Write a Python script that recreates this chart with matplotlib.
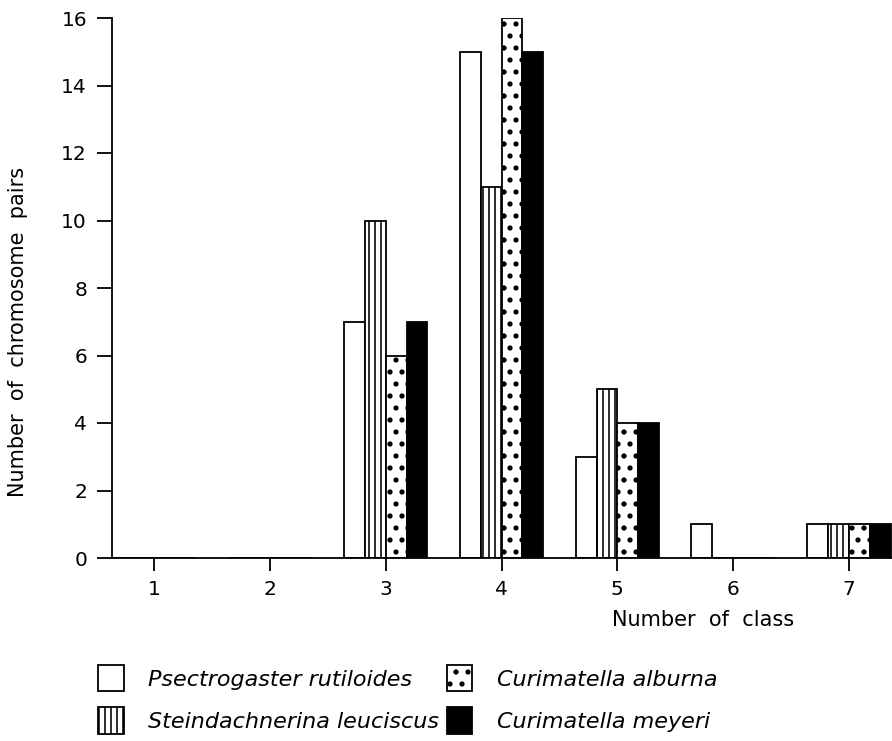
import numpy as np
import matplotlib
matplotlib.use('Agg')
import matplotlib.pyplot as plt

# values
classes = [1, 2, 3, 4, 5, 6, 7]
species = ['Psectrogaster rutiloides', 'Steindachnerina leuciscus',
           'Curimatella alburna', 'Curimatella meyeri']
psectrogaster = [0, 0, 7, 15, 3, 1, 1]
steindachnerina = [0, 0, 10, 11, 5, 0, 1]
alburna = [0, 0, 6, 16, 4, 0, 1]
meyeri = [0, 0, 7, 15, 4, 0, 1]
yticks = [0, 2, 4, 6, 8, 10, 12, 14, 16]

series = [psectrogaster, steindachnerina, alburna, meyeri]
fills = ['white', 'white', 'white', 'black']
hatches = [None, '||||', '..', None]
hatch_lw = [1.0, 0.8, 1.4, 1.0]

# higher dpi so the hatch pattern gets the right density; S turns "100 dpi points" into real points
DPI = 144
S = 100 / DPI

plt.rcParams['font.family'] = 'DejaVu Sans'

fig = plt.figure(figsize=(892 / DPI, 741 / DPI), dpi=DPI)
ax = fig.add_axes([112 / 892, 183 / 741, 780 / 892, 540 / 741])

x = np.array(classes)
bar_w = 0.18
handles = []
for i, vals in enumerate(series):
    plt.rcParams['hatch.linewidth'] = hatch_lw[i]
    offs = (i - 1.5) * bar_w
    b = ax.bar(x + offs, vals, bar_w, color=fills[i], hatch=hatches[i],
               edgecolor='black', linewidth=1.3 * S, label=species[i])
    for p in b:
        if hasattr(p, 'set_hatch_linewidth'):
            p.set_hatch_linewidth(hatch_lw[i])
    handles.append(b)

ax.set_xlim(0.637, 7.371)
ax.set_ylim(0, 16)
ax.set_xticks(classes)
ax.set_yticks(yticks)
ax.spines['top'].set_visible(False)
ax.spines['right'].set_visible(False)
ax.spines['left'].set_linewidth(1.3 * S)
ax.spines['bottom'].set_linewidth(1.3 * S)
ax.tick_params(axis='y', direction='out', length=11 * S, width=1.3 * S, pad=7 * S, labelsize=14.5 * S)
ax.tick_params(axis='x', direction='out', length=9 * S, width=1.3 * S, pad=7 * S, labelsize=14.5 * S)

fig.text(612 / 892, 1 - 620 / 741, 'Number  of  class', fontsize=15 * S, ha='left', va='center')
fig.text(18 / 892, 1 - 332 / 741, 'Number  of  chromosome  pairs', fontsize=15 * S,
         rotation=90, ha='center', va='center')

leg = fig.legend(handles=handles, loc='upper left', bbox_to_anchor=(78 / 892, 1 - 645 / 741),
                 ncol=2, frameon=False, handlelength=1.15, handleheight=1.45,
                 handletextpad=1.1, columnspacing=0.35, labelspacing=0.72,
                 prop={'size': 16 * S, 'style': 'italic'})
for p, lw in zip(leg.get_patches(), hatch_lw):
    if hasattr(p, 'set_hatch_linewidth'):
        p.set_hatch_linewidth(lw)
    p.set_linewidth(1.3 * S)

fig.savefig('out.png', dpi=DPI)
